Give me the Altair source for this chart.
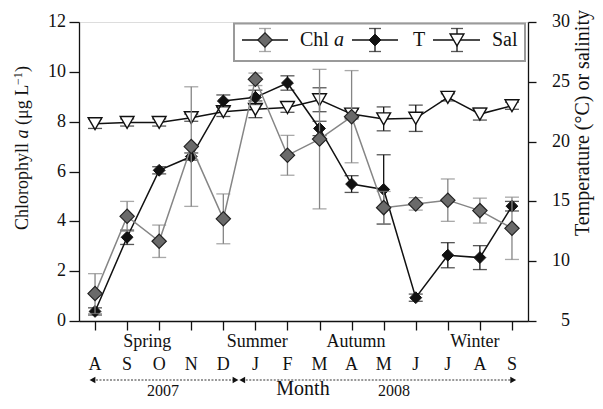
import altair as alt
import pandas as pd

# ---------------- data ----------------
months = ["A", "S", "O", "N", "D", "J", "F", "M", "A", "M", "J", "J", "A", "S"]
chl = [1.1, 4.2, 3.2, 7.0, 4.1, 9.7, 6.65, 7.3, 8.2, 4.55, 4.7, 4.85, 4.43, 3.72]
chl_err = [0.8, 0.6, 0.65, 2.4, 1.0, 0.25, 0.8, 2.8, 1.85, 0.65, 0.25, 0.85, 0.5, 1.25]
temp = [5.8, 12.0, 17.6, 18.75, 23.4, 23.7, 24.9, 21.1, 16.45, 16.0, 6.95, 10.5, 10.3, 14.6]
temp_err = [0.3, 0.6, 0.3, 0.3, 0.5, 0.6, 0.6, 0.6, 0.7, 2.9, 0.3, 1.05, 1.0, 0.4]
sal = [21.5, 21.6, 21.6, 22.0, 22.5, 22.7, 22.85, 23.5, 22.3, 21.9, 21.95, 23.7, 22.3, 23.0]
sal_err = [0.4, 0.3, 0.3, 0.3, 0.4, 0.7, 0.4, 1.0, 0.4, 1.0, 1.1, 0.3, 0.5, 0.3]

left_ticks = [0, 2, 4, 6, 8, 10, 12]
right_ticks = [5, 10, 15, 20, 25, 30]

seasons = ["Spring", "Summer", "Autumn", "Winter"]
season_pos = [1.63, 5.06, 8.14, 11.84]
years = ["2007", "2008"]
year_label_pos = [2.12, 9.32]
year_start = [-0.08, 4.59]
year_end = [4.38, 13.04]

# ---------------- layout ----------------
W, H = 449, 299
FONT = "Liberation Serif"
GRAY_LINE = "#858585"
GRAY_FILL = "#6a6a6a"
BLACK = "#111111"
CAP = "M-1,0L1,0"

idx = list(range(len(months)))
df = pd.DataFrame({
    "idx": idx, "month": months,
    "chl": chl, "chl_lo": [v - e for v, e in zip(chl, chl_err)], "chl_hi": [v + e for v, e in zip(chl, chl_err)],
    "temp": temp, "t_lo": [v - e for v, e in zip(temp, temp_err)], "t_hi": [v + e for v, e in zip(temp, temp_err)],
    "sal": sal, "s_lo": [v - e for v, e in zip(sal, sal_err)], "s_hi": [v + e for v, e in zip(sal, sal_err)],
})

XSCALE = alt.Scale(domain=[-0.5, 13.5], nice=False, zero=False)
XAXIS = alt.Axis(values=idx, labels=False, title=None, grid=False, tickSize=9,
                 tickColor=BLACK, domainColor=BLACK, tickWidth=1.3, domainWidth=1.3)


def X(field="idx"):
    return alt.X(field + ":Q", scale=XSCALE, axis=XAXIS)


LSCALE = alt.Scale(domain=[0, 12], nice=False, zero=False)
RSCALE = alt.Scale(domain=[5, 30], nice=False, zero=False)
LAXIS = alt.Axis(orient="left", values=left_ticks, labels=False, title=None, grid=False,
                 tickSize=10, tickColor=BLACK, domainColor=BLACK, tickWidth=1.3, domainWidth=1.3)
RAXIS = alt.Axis(orient="right", values=right_ticks, labels=False, title=None, grid=False,
                 tickSize=8, tickColor=BLACK, domainColor=BLACK, tickWidth=1.3, domainWidth=1.3)


def YL(field, axis=False):
    return alt.Y(field + ":Q", scale=LSCALE, axis=LAXIS if axis else None)


def YR(field, axis=False):
    return alt.Y(field + ":Q", scale=RSCALE, axis=RAXIS if axis else None)


base = alt.Chart(df)
layers = []

# ---- salinity ----
layers.append(base.mark_rule(color=BLACK, strokeWidth=1.3).encode(x=X(), y=YR("s_lo"), y2="s_hi"))
layers.append(base.mark_point(shape=CAP, size=196, color=BLACK, strokeWidth=1.3).encode(x=X(), y=YR("s_lo")))
layers.append(base.mark_point(shape=CAP, size=196, color=BLACK, strokeWidth=1.3).encode(x=X(), y=YR("s_hi")))
layers.append(base.mark_line(color=BLACK, strokeWidth=1.5).encode(x=X(), y=YR("sal", axis=True)))
layers.append(base.mark_point(shape="triangle-down", size=190, filled=True, fill="white",
                              stroke=BLACK, strokeWidth=1.4, opacity=1).encode(x=X(), y=YR("sal")))

# ---- temperature ----
layers.append(base.mark_rule(color=BLACK, strokeWidth=1.3).encode(x=X(), y=YR("t_lo"), y2="t_hi"))
layers.append(base.mark_point(shape=CAP, size=196, color=BLACK, strokeWidth=1.3).encode(x=X(), y=YR("t_lo")))
layers.append(base.mark_point(shape=CAP, size=196, color=BLACK, strokeWidth=1.3).encode(x=X(), y=YR("t_hi")))
layers.append(base.mark_line(color=BLACK, strokeWidth=1.5).encode(x=X(), y=YR("temp")))
layers.append(base.mark_point(shape="diamond", size=140, filled=True, fill=BLACK,
                              stroke=BLACK, strokeWidth=1, opacity=1).encode(x=X(), y=YR("temp")))

# ---- chlorophyll ----
layers.append(base.mark_rule(color=GRAY_LINE, strokeWidth=1.3).encode(x=X(), y=YL("chl_lo"), y2="chl_hi"))
layers.append(base.mark_point(shape=CAP, size=196, color=GRAY_LINE, strokeWidth=1.3).encode(x=X(), y=YL("chl_lo")))
layers.append(base.mark_point(shape=CAP, size=196, color=GRAY_LINE, strokeWidth=1.3).encode(x=X(), y=YL("chl_hi")))
layers.append(base.mark_line(color=GRAY_LINE, strokeWidth=1.5).encode(x=X(), y=YL("chl", axis=True)))
layers.append(base.mark_point(shape="diamond", size=205, filled=True, fill=GRAY_FILL,
                              stroke="#222222", strokeWidth=1.2, opacity=1).encode(x=X(), y=YL("chl")))

# ---- tick labels (serif, via the chart scales) ----
layers.append(base.mark_text(font=FONT, fontSize=18, color=BLACK, baseline="middle").encode(
    x=X(), y=alt.value(H + 44), text="month:N"))
ldf = pd.DataFrame({"v": left_ticks, "t": [str(v) for v in left_ticks]})
layers.append(alt.Chart(ldf).mark_text(font=FONT, fontSize=18, color=BLACK, align="right",
                                       baseline="middle").encode(
    x=alt.value(-13), y=YL("v"), text="t:N"))
rdf = pd.DataFrame({"v": right_ticks, "t": [str(v) for v in right_ticks]})
layers.append(alt.Chart(rdf).mark_text(font=FONT, fontSize=18, color=BLACK, align="right",
                                       baseline="middle").encode(
    x=alt.value(W + 42), y=YR("v"), text="t:N"))

# ---- season labels ----
sdf = pd.DataFrame({"idx": season_pos, "txt": seasons})
layers.append(alt.Chart(sdf).mark_text(font=FONT, fontSize=18, color=BLACK, baseline="middle").encode(
    x=X(), y=alt.value(H + 21), text="txt:N"))

# ---- year arrows ----
ydf = pd.DataFrame({"idx": year_start, "end": year_end, "lab": year_label_pos, "txt": years})
layers.append(alt.Chart(ydf).mark_rule(color="#333333", strokeWidth=1.2, strokeDash=[2, 1.5]).encode(
    x=X(), x2="end:Q", y=alt.value(H + 59)))
layers.append(alt.Chart(ydf).mark_point(shape="triangle-left", size=45, filled=True, color=BLACK, opacity=1).encode(
    x=X(), y=alt.value(H + 59)))
layers.append(alt.Chart(ydf).mark_point(shape="triangle-right", size=45, filled=True, color=BLACK, opacity=1).encode(
    x=X("end"), y=alt.value(H + 59)))
layers.append(alt.Chart(ydf).mark_text(font=FONT, fontSize=16, color=BLACK, baseline="middle").encode(
    x=X("lab"), y=alt.value(H + 70), text="txt:N"))

one = alt.Chart(pd.DataFrame({"k": [0]}))

# ---- x title ----
layers.append(one.mark_text(text="Month", font=FONT, fontSize=20, color=BLACK, baseline="middle").encode(
    x=alt.value(224), y=alt.value(H + 68)))

# ---- left title (rotated, mixed styles) ----
lx = -56
layers.append(one.mark_text(text="Chlorophyll", font=FONT, fontSize=18, angle=270, align="left",
                            baseline="middle", color=BLACK).encode(x=alt.value(lx), y=alt.value(208)))
layers.append(one.mark_text(text="a", font=FONT, fontSize=18, fontStyle="italic", angle=270, align="left",
                            baseline="middle", color=BLACK).encode(x=alt.value(lx), y=alt.value(116.5)))
layers.append(one.mark_text(text="(\u03bcg L", font=FONT, fontSize=18, angle=270, align="left",
                            baseline="middle", color=BLACK).encode(x=alt.value(lx), y=alt.value(103)))
layers.append(one.mark_text(text="\u22121", font=FONT, fontSize=12, angle=270, align="left",
                            baseline="middle", color=BLACK).encode(x=alt.value(lx - 5), y=alt.value(63)))
layers.append(one.mark_text(text=")", font=FONT, fontSize=18, angle=270, align="left",
                            baseline="middle", color=BLACK).encode(x=alt.value(lx), y=alt.value(50)))

# ---- right title ----
layers.append(one.mark_text(text="Temperature (\u00b0C) or salinity", font=FONT, fontSize=20, angle=270,
                            align="center", baseline="middle", color=BLACK).encode(
    x=alt.value(W + 55), y=alt.value(101)))

# ---- legend box ----
layers.append(one.mark_rect(fill="white", stroke="#9a9a9a", strokeWidth=2).encode(
    x=alt.value(155), x2=alt.value(446), y=alt.value(1.5), y2=alt.value(39)))
LY = 18
for (x0, x1, xc, txt_x, kind) in [(163, 209, 186, 221, "chl"), (273, 319, 296, 334, "t"), (354, 401, 378, 413, "sal")]:
    col = BLACK
    ecol = GRAY_LINE if kind == "chl" else col
    layers.append(one.mark_rule(color=col, strokeWidth=1.3).encode(
        x=alt.value(x0), x2=alt.value(x1), y=alt.value(LY)))
    layers.append(one.mark_rule(color=ecol, strokeWidth=1.3).encode(
        x=alt.value(xc), y=alt.value(LY - 11.5), y2=alt.value(LY + 11.5)))
    for yy in (LY - 11.5, LY + 11.5):
        layers.append(one.mark_point(shape=CAP, size=144, color=ecol,
                                     strokeWidth=1.3).encode(x=alt.value(xc), y=alt.value(yy)))
    if kind == "chl":
        layers.append(one.mark_point(shape="diamond", size=205, filled=True, fill=GRAY_FILL, stroke="#222222",
                                     strokeWidth=1.2, opacity=1).encode(x=alt.value(xc), y=alt.value(LY)))
        layers.append(one.mark_text(text="Chl", font=FONT, fontSize=20, align="left", baseline="middle",
                                    color=BLACK).encode(x=alt.value(txt_x), y=alt.value(LY)))
        layers.append(one.mark_text(text="a", font=FONT, fontSize=20, fontStyle="italic", align="left",
                                    baseline="middle", color=BLACK).encode(x=alt.value(txt_x + 34), y=alt.value(LY)))
    elif kind == "t":
        layers.append(one.mark_point(shape="diamond", size=140, filled=True, fill=BLACK, stroke=BLACK,
                                     strokeWidth=1, opacity=1).encode(x=alt.value(xc), y=alt.value(LY)))
        layers.append(one.mark_text(text="T", font=FONT, fontSize=20, align="left", baseline="middle",
                                    color=BLACK).encode(x=alt.value(txt_x), y=alt.value(LY)))
    else:
        layers.append(one.mark_point(shape="triangle-down", size=190, filled=True, fill="white", stroke=BLACK,
                                     strokeWidth=1.4, opacity=1).encode(x=alt.value(xc), y=alt.value(LY)))
        layers.append(one.mark_text(text="Sal", font=FONT, fontSize=20, align="left", baseline="middle",
                                    color=BLACK).encode(x=alt.value(txt_x), y=alt.value(LY)))

chart = alt.layer(*layers).resolve_scale(y="independent").properties(
    width=W, height=H,
    autosize=alt.AutoSizeParams(type="none"),
    padding={"left": 71, "top": 14, "right": 67, "bottom": 80},
    background="white",
).configure_view(stroke=BLACK, strokeWidth=1.3).configure(font=FONT)

chart.save("out.html", embed_options={"renderer": "svg", "actions": False})
